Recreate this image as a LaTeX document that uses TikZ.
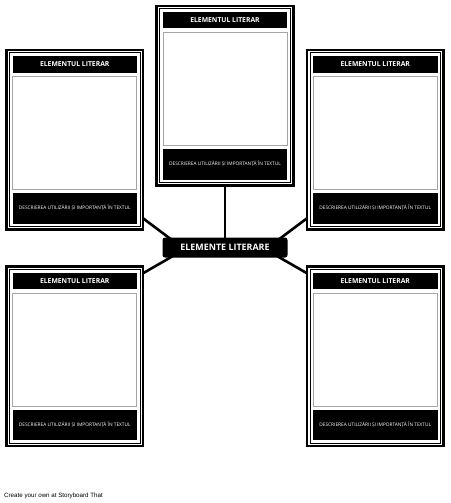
\documentclass[tikz,border=0pt]{standalone}
\usepackage{fontspec}
\setmainfont{Open Sans}
\newfontfamily\footfont{Liberation Sans}
\begin{document}
\begin{tikzpicture}[x=1pt,y=-1pt,
  outerframe/.style={draw=black,line width=2.6pt,fill=white},
  innerframe/.style={draw=black,line width=1pt},
  headbox/.style={fill=black,text=white,minimum width=124.5pt,minimum height=16.5pt,inner sep=0pt,font=\fontsize{6.8}{7.5}\selectfont\bfseries},
  imgbox/.style={draw=black!35,line width=0.9pt,fill=white,minimum width=124pt,minimum height=113pt,inner sep=0pt},
  descbox/.style={fill=black,text=white,minimum width=124.5pt,minimum height=30.5pt,inner sep=0pt,font=\fontsize{4.8}{5.5}\selectfont},
  centerbox/.style={fill=black,text=white,rounded corners=2.5pt,minimum width=125pt,minimum height=20pt,inner sep=0pt,font=\fontsize{8.9}{10}\selectfont\bfseries},
  link/.style={draw=black,line width=2.6pt}]
\useasboundingbox (0,0) rectangle (450,503);
\fill[white] (0,0) rectangle (450,503);
\newcommand\mycard[3]{%
  \draw[outerframe] (#2-6,#3-6) rectangle (#2+130.5,#3+173.5);
  \draw[innerframe] (#2-3,#3-3) rectangle (#2+127.5,#3+170.5);
  \node[headbox] (#1h) at (#2+62.25,#3+8.25) {ELEMENTUL LITERAR};
  \node[imgbox] (#1i) at (#2+62.25,#3+77.25) {};
  \node[descbox] (#1d) at (#2+62.25,#3+152.25) {DESCRIEREA UTILIZĂRII ȘI IMPORTANȚĂ ÎN TEXTUL};
}
% connector anchor points
\coordinate (pT) at (225,178);
\coordinate (pTL) at (140,216);
\coordinate (pTR) at (310,216);
\coordinate (pBL) at (140,275);
\coordinate (pBR) at (310,275);
\coordinate (cT) at (225,247.5);
\coordinate (cTL) at (172,240);
\coordinate (cTR) at (278,240);
\coordinate (cBL) at (173,256);
\coordinate (cBR) at (277,256);
\draw[link] (cT) -- (pT);
\draw[link] (cTL) -- (pTL);
\draw[link] (cTR) -- (pTR);
\draw[link] (cBL) -- (pBL);
\draw[link] (cBR) -- (pBR);
% cards
\mycard{tl}{12.5}{56}
\mycard{t}{162.75}{12}
\mycard{tr}{313}{56}
\mycard{bl}{12.5}{272.5}
\mycard{br}{313}{272.5}
% center node
\node[centerbox] (center) at (225,247.5) {ELEMENTE LITERARE};
\node[anchor=west,inner sep=0pt,font=\footfont\fontsize{6.2}{7}\selectfont] (foot) at (4,495.5) {Create your own at Storyboard That};
\end{tikzpicture}
\end{document}
